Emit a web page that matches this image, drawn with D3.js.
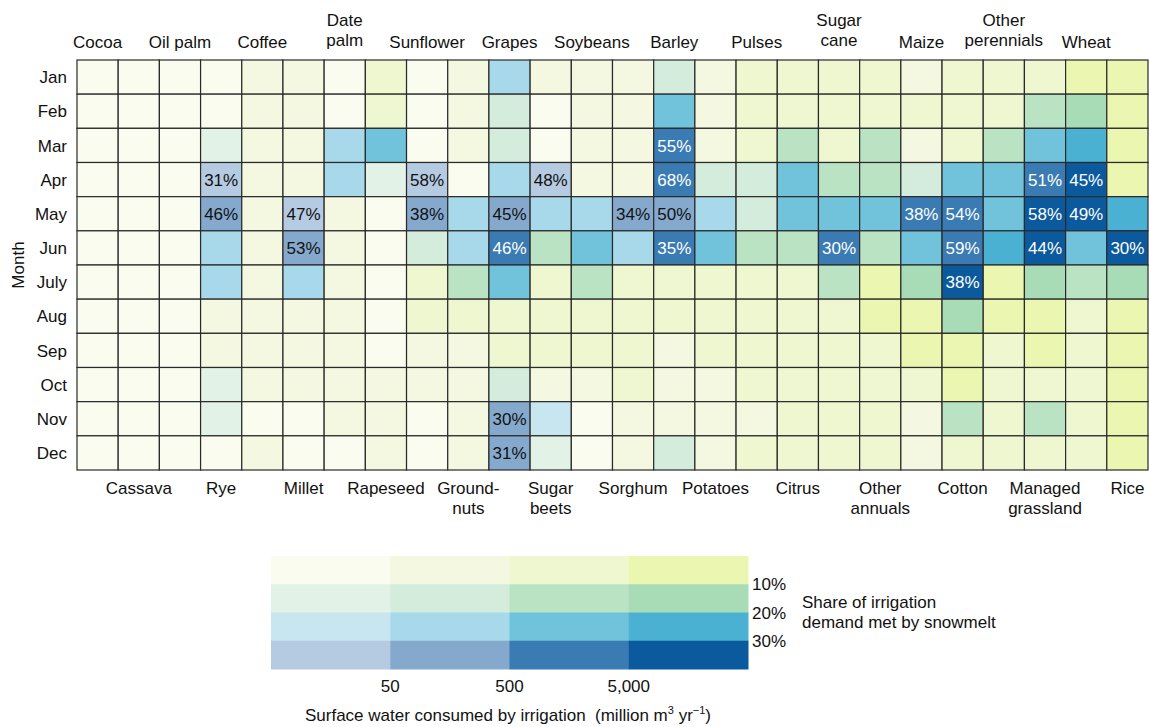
<!DOCTYPE html>
<html><head><meta charset="utf-8">
<script src="https://cdn.jsdelivr.net/npm/d3@7"></script>
<style>
body{margin:0;background:#fff}
svg{display:block}
text{font-family:"Liberation Sans",Arial,Helvetica,sans-serif;fill:#111}
</style>
</head><body>
<svg id="chart" width="1149" height="727"></svg>
<script>
// ---------------- data ----------------
const months = ["Jan","Feb","Mar","Apr","May","Jun","July","Aug","Sep","Oct","Nov","Dec"];
const crops = ["Cocoa","Cassava","Oil palm","Rye","Coffee","Millet","Date palm","Rapeseed","Sunflower","Groundnuts","Grapes","Sugar beets","Soybeans","Sorghum","Barley","Potatoes","Pulses","Citrus","Sugar cane","Other annuals","Maize","Cotton","Other perennials","Managed grassland","Wheat","Rice"];
const cropLabelLines = {"Date palm":["Date","palm"],"Groundnuts":["Ground-","nuts"],"Sugar beets":["Sugar","beets"],"Sugar cane":["Sugar","cane"],"Other annuals":["Other","annuals"],"Other perennials":["Other","perennials"],"Managed grassland":["Managed","grassland"]};
// class of surface water consumed (0: <50, 1: 50-500, 2: 500-5,000, 3: >5,000 million m3/yr), Jan..Dec
const volumeClass = [
  "000000000000","000000000000","000000000000","000011111000","111111111101","111101111100",
  "001111111110","222000000111","000011221100","111011221111","111112222111","100012222100",
  "111112222100","111111222211","122212221111","111112222111","222112222212","222222222222",
  "222222222222","222222332222","121122333211","222222333322","222223332222","222233333222",
  "333332222222","333333333333"];
// class of share met by snowmelt (0: <10%, 1: 10-20%, 2: 20-30%, 3: >30%), Jan..Dec
const shareClass = [
  "000000000000","000000000000","000000000000","001332200110","000000000000","000033200000",
  "002200000000","002100000000","000331000000","000022100000","211233200133","000321000021",
  "000022100000","000032000000","123333000001","000122000000","000111000000","001221000000",
  "000123100000","001121000000","000132100000","000233310010","001222000000","012333100010",
  "012332100000","000023100000"];
const pctLabels = [
  ["Rye","Apr",31],["Rye","May",46],["Millet","May",47],["Millet","Jun",53],
  ["Sunflower","Apr",58],["Sunflower","May",38],["Grapes","May",45],["Grapes","Jun",46],
  ["Grapes","Nov",30],["Grapes","Dec",31],["Sugar beets","Apr",48],["Sorghum","May",34],
  ["Barley","Mar",55],["Barley","Apr",68],["Barley","May",50],["Barley","Jun",35],
  ["Sugar cane","Jun",30],["Maize","May",38],["Cotton","May",54],["Cotton","Jun",59],
  ["Cotton","July",38],["Managed grassland","Apr",51],["Managed grassland","May",58],
  ["Managed grassland","Jun",44],["Wheat","Apr",45],["Wheat","May",49],["Rice","Jun",30]];
const volumeTicks = ["50","500","5,000"];
const shareTicks = ["10%","20%","30%"];
// bivariate palette [share class][volume class]
const palette = [
  ["#f9fcee","#f4f8e0","#eff7d1","#ebf7b0"],
  ["#e2f2e6","#d3ecdc","#bae3c3","#a8dcb6"],
  ["#c8e6f0","#a7d9ea","#71c2db","#4bb1d2"],
  ["#b5cbe1","#85a9cd","#3a7bb3","#0b5a9e"]];

// ---------------- chart ----------------
const svg = d3.select("#chart");
const FS = 17;
const x = d3.scaleBand().domain(crops).range([77,1148]);
const y = d3.scaleBand().domain(months).range([60,470]);

const cells = [];
crops.forEach((c,i)=>months.forEach((m,j)=>{
  cells.push({crop:c, month:m, v:+volumeClass[i][j], s:+shareClass[i][j]});
}));

svg.append("g").selectAll("rect").data(cells).join("rect")
  .attr("x",d=>x(d.crop)).attr("y",d=>y(d.month))
  .attr("width",x.bandwidth()).attr("height",y.bandwidth())
  .attr("fill",d=>palette[d.s][d.v])
  .attr("stroke","#2a2a2a").attr("stroke-width",1.2);

const cellMap = new Map(cells.map(d=>[d.crop+"|"+d.month,d]));
svg.append("g").selectAll("text").data(pctLabels).join("text")
  .attr("x",d=>x(d[0])+x.bandwidth()/2)
  .attr("y",d=>y(d[1])+y.bandwidth()/2)
  .attr("dy","0.36em").attr("text-anchor","middle")
  .attr("font-size",FS)
  .style("fill",d=>cellMap.get(d[0]+"|"+d[1]).v>=2?"#fff":"#111")
  .text(d=>d[2]+"%");

// month labels
svg.append("g").selectAll("text").data(months).join("text")
  .attr("x",67).attr("y",d=>y(d)+y.bandwidth()/2).attr("dy","0.36em")
  .attr("text-anchor","end").attr("font-size",FS).text(d=>d);
svg.append("text").attr("transform","translate(24,265) rotate(-90)")
  .attr("text-anchor","middle").attr("font-size",FS).text("Month");

// crop labels, alternating top / bottom
crops.forEach((c,i)=>{
  const lines = cropLabelLines[c] || [c];
  const cx = x(c)+x.bandwidth()/2;
  const t = svg.append("text").attr("text-anchor","middle").attr("font-size",FS);
  if(i%2===0){
    if(lines.length===1) t.append("tspan").attr("x",cx).attr("y",48).text(lines[0]);
    else { t.append("tspan").attr("x",cx).attr("y",26).text(lines[0]);
           t.append("tspan").attr("x",cx).attr("y",46).text(lines[1]); }
  } else {
    t.append("tspan").attr("x",cx).attr("y",494).text(lines[0]);
    if(lines.length>1) t.append("tspan").attr("x",cx).attr("y",514).text(lines[1]);
  }
});

// ---------------- legend ----------------
const lx = d3.scaleBand().domain([0,1,2,3]).range([271,748]);
const ly = d3.scaleBand().domain([0,1,2,3]).range([556,669]);
const leg = [];
for(let s=0;s<4;s++) for(let v=0;v<4;v++) leg.push({s,v});
svg.append("g").selectAll("rect").data(leg).join("rect")
  .attr("x",d=>lx(d.v)).attr("y",d=>ly(d.s))
  .attr("width",lx.bandwidth()+0.5).attr("height",ly.bandwidth()+0.5)
  .attr("fill",d=>palette[d.s][d.v]);
svg.append("g").selectAll("text").data(volumeTicks).join("text")
  .attr("x",(d,i)=>lx(i+1)).attr("y",692).attr("text-anchor","middle")
  .attr("font-size",FS).text(d=>d);
svg.append("g").selectAll("text").data(shareTicks).join("text")
  .attr("x",752).attr("y",(d,i)=>ly(i+1)).attr("dy","0.36em")
  .attr("font-size",FS).text(d=>d);
const st = svg.append("text").attr("font-size",FS);
st.append("tspan").attr("x",802).attr("y",608).text("Share of irrigation");
st.append("tspan").attr("x",802).attr("y",628).text("demand met by snowmelt");

const at = svg.append("text").attr("x",508).attr("y",721).attr("text-anchor","middle").attr("font-size",FS);
at.append("tspan").text("Surface water consumed by irrigation\u00a0\u00a0(million m");
at.append("tspan").attr("dy",-7).attr("font-size",11).text("3");
at.append("tspan").attr("dy",7).text(" yr");
at.append("tspan").attr("dy",-7).attr("font-size",11).text("\u22121");
at.append("tspan").attr("dy",7).text(")");
</script>
</body></html>
